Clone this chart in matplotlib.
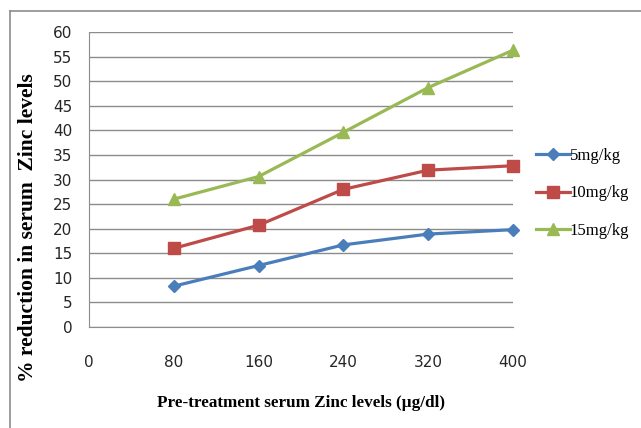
import matplotlib
matplotlib.use("Agg")
import matplotlib.pyplot as plt
from matplotlib.lines import Line2D

# data
zinc = [80, 160, 240, 320, 400]
dose_5 = [8.3, 12.5, 16.7, 18.9, 19.8]
dose_10 = [16.0, 20.7, 28.0, 31.9, 32.8]
dose_15 = [26.0, 30.6, 39.6, 48.7, 56.3]
xticks = [0, 80, 160, 240, 320, 400]
yticks = list(range(0, 61, 5))

fig = plt.figure(figsize=(6.41, 4.28), dpi=100)
ax = fig.add_axes([0.1388, 0.236, 0.8003 - 0.1388, 0.9252 - 0.236])

# outer chart frame (only top and left edges show)
fig.add_artist(Line2D([10/641, 10/641], [0, 1 - 11/428], color="#8c8c8c", lw=1.2))
fig.add_artist(Line2D([10/641, 1], [1 - 11/428, 1 - 11/428], color="#8c8c8c", lw=1.2))

ax.plot(zinc, dose_5, color="#4A7EBB", lw=2.3, marker="D", ms=6.5, label="5mg/kg", clip_on=False)
ax.plot(zinc, dose_10, color="#BE4B48", lw=2.3, marker="s", ms=8, label="10mg/kg", clip_on=False)
ax.plot(zinc, dose_15, color="#98B954", lw=2.3, marker="^", ms=8.5, label="15mg/kg", clip_on=False)

ax.set_xlim(0, 400)
ax.set_ylim(0, 60)
ax.set_yticks(yticks)
ax.set_xticks(xticks)
ax.grid(axis="y", color="#8c8c8c", lw=1)
ax.set_axisbelow(True)
for sp in ["top", "right"]:
    ax.spines[sp].set_visible(False)
ax.spines["left"].set_color("#8c8c8c")
ax.spines["bottom"].set_color("#8c8c8c")

ax.tick_params(axis="y", length=0, pad=12, labelsize=11, labelcolor="#262626")
ax.tick_params(axis="x", length=0, pad=20, labelsize=11, labelcolor="#262626")

ax.set_xlabel("Pre-treatment serum Zinc levels (\u00b5g/dl)", family="Liberation Serif",
              weight="bold", fontsize=12.3, labelpad=18)
ax.set_ylabel("% reduction in serum  Zinc levels", family="Liberation Serif",
              weight="bold", fontsize=15.5)
ax.yaxis.set_label_coords(-0.12, 0.336)

ax.legend(loc="center left", bbox_to_anchor=(1.02, 0.453), frameon=False,
          prop={"family": "Liberation Serif", "size": 12}, handlelength=2.0,
          handletextpad=0.0, labelspacing=1.3)

fig.savefig("out.png", dpi=100)
